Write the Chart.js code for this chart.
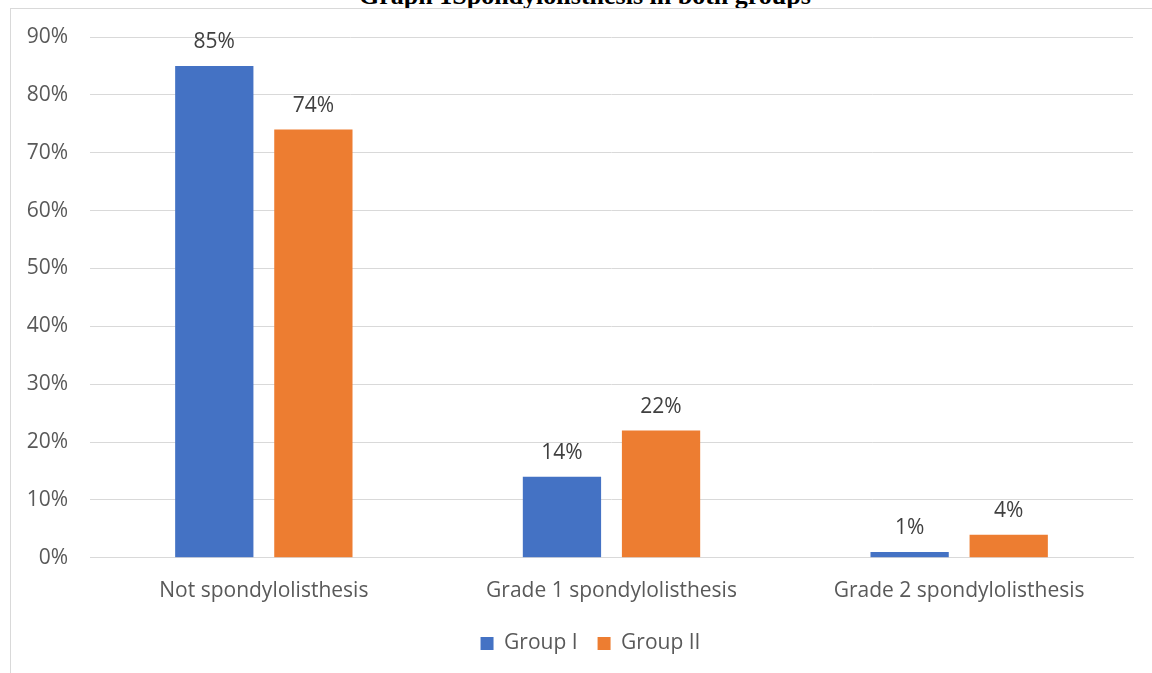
<!DOCTYPE html>
<html>
<head>
<meta charset="utf-8">
<script src="https://cdn.jsdelivr.net/npm/chart.js@4.4.1/dist/chart.umd.min.js"></script>
<style>
  html, body { margin: 0; padding: 0; background: #fff; }
  #wrap { position: relative; width: 1152px; height: 673px; overflow: hidden; }
  #title {
    position: absolute; left: 0; width: 1170px; top: -17px;
    text-align: center; font-family: "Liberation Serif", serif; font-weight: bold;
    font-size: 26px; line-height: 26px; color: #000;
  }
  #frame {
    position: absolute; left: 10px; top: 8px; width: 1200px; height: 700px;
    border-left: 1px solid #d9d9d9; border-top: 1px solid #d9d9d9;
  }
  #box { position: absolute; left: 0; top: 0; width: 1152px; height: 673px; }
</style>
</head>
<body>
<div id="wrap">
  <div id="title">Graph 1Spondylolisthesis in both groups</div>
  <div id="frame"></div>
  <div id="box"><canvas id="bar-chart"></canvas></div>
</div>
<script>
// categories and values (percent)
let labels = ["Not spondylolisthesis", "Grade 1 spondylolisthesis", "Grade 2 spondylolisthesis"]
let group1 = [85, 14, 1]
let group2 = [74, 22, 4]
let yTicks = [0, 10, 20, 30, 40, 50, 60, 70, 80, 90]

const textGrey = "#595959"
const font = "'Open Sans', sans-serif"

// draws the % value above every bar
const valueLabels = {
  id: "valueLabels",
  afterDatasetsDraw(chart) {
    const ctx = chart.ctx
    ctx.save()
    ctx.font = "21px " + font
    ctx.fillStyle = "#404040"
    ctx.textAlign = "center"
    ctx.textBaseline = "bottom"
    chart.data.datasets.forEach(function(ds, i) {
      chart.getDatasetMeta(i).data.forEach(function(bar, j) {
        ctx.fillText(ds.data[j] + "%", bar.x, bar.y - 13)
      })
    })
    ctx.restore()
  }
}

// legend in the original sits centred on the whole frame, a bit right of the plot
const legendShift = {
  id: "legendShift",
  afterLayout(chart) {
    chart.legend.left += 24
    chart.legend.right += 24
  }
}

const ctx = document.getElementById("bar-chart")
const myChart = new Chart(ctx, {
  type: "bar",
  data: {
    labels: labels,
    datasets: [
      {
        label: "Group I",
        data: group1,
        backgroundColor: "#4472C4"
      },
      {
        label: "Group II",
        data: group2,
        backgroundColor: "#ED7D31"
      }
    ]
  },
  options: {
    responsive: true,
    maintainAspectRatio: false,
    animation: false,
    categoryPercentage: 0.57,
    barPercentage: 0.79,
    layout: { padding: { top: 37, right: 19, bottom: 9, left: 0 } },
    plugins: {
      title: { display: false },
      tooltip: { enabled: false },
      legend: {
        position: "bottom",
        labels: {
          boxWidth: 13, boxHeight: 13, padding: 20,
          color: textGrey,
          font: { family: font, size: 21 }
        }
      }
    },
    scales: {
      x: {
        afterFit: function(scale) { scale.height = scale.height - 12 },
        grid: { display: false, drawTicks: false },
        border: { color: "#d9d9d9" },
        ticks: { color: textGrey, padding: 21, font: { family: font, size: 21 } }
      },
      y: {
        min: 0, max: 90,
        afterFit: function(scale) { scale.width = 90 },
        afterBuildTicks: function(scale) { scale.ticks = yTicks.map(v => ({ value: v })) },
        grid: { color: "#d9d9d9", drawTicks: false },
        border: { display: false },
        ticks: {
          color: textGrey, padding: 22,
          font: { family: font, size: 21 },
          callback: function(v) { return v + "%" }
        }
      }
    }
  },
  plugins: [valueLabels, legendShift]
})
</script>
</body>
</html>
